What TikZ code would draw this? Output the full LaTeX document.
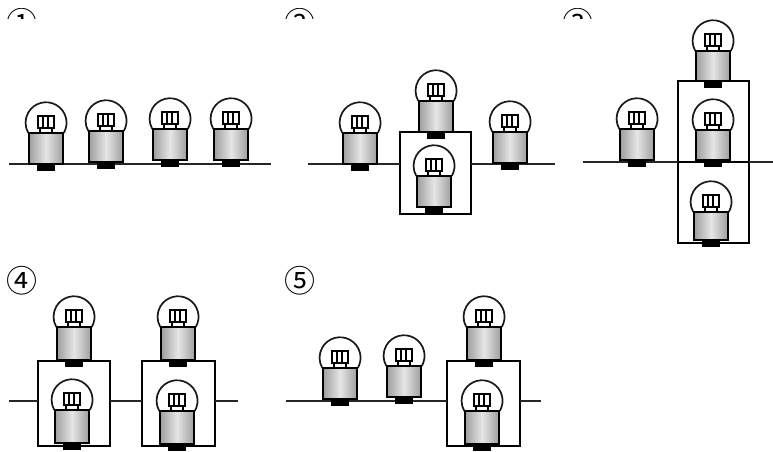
\documentclass[tikz,border=0pt]{standalone}
\usepackage{fontspec}
\newfontfamily\numfont{Noto Sans CJK SC}
\tikzset{
  wire/.style={draw=black!85,line width=1.5pt},
  boxnode/.style={draw=black,line width=1.5pt,fill=none,inner sep=0pt,rectangle},
  lbl/.style={inner sep=0pt,font=\numfont\fontsize{31}{31}\selectfont,text=black},
  dome/.style={draw=black!90,line width=1.7pt,fill=white},
  bodyshade/.style={draw=black,line width=1.6pt,left color=black!38,right color=black!38,middle color=white!90!black},
  fil/.style={draw=black,line width=1.3pt,fill=white},
  contact/.style={fill=black,draw=none}
}
% \lamp{name}{cx}{body bottom}{height dome top to body bottom}
\newcommand{\lamp}[4]{%
  \begin{scope}[shift={(#2,-#3)}]
    \pgfmathsetmacro{\hh}{#4}
    \draw[dome] (17.8,{\hh-30}) arc[start angle=-30,end angle=210,radius=20.5];
    \draw[fil] (-6,{\hh-30}) rectangle (6,{\hh-25});
    \draw[fil] (-8,{\hh-25}) rectangle (8,{\hh-13});
    \draw[line width=1.2pt] (-3,{\hh-25}) -- (-3,{\hh-13}) (2,{\hh-25}) -- (2,{\hh-13});
    \path[bodyshade] (-17,0) rectangle (17,{\hh-30});
    \fill[contact] (-9,-7) rectangle (9,0);
    \coordinate (#1) at (0,0);
  \end{scope}}
\begin{document}
\begin{tikzpicture}[x=1pt,y=1pt]
\useasboundingbox (0,0) rectangle (773,-451);
% labels (first row cut off by the picture's mask)
\begin{scope}
  \clip (0,-8) rectangle (773,-18);
  \node[lbl] (n1) at (22,-23) {①};
  \node[lbl] (n2) at (300,-23) {②};
  \node[lbl] (n3) at (578,-23) {③};
\end{scope}
\node[lbl] (n4) at (22,-281) {④};
\node[lbl] (n5) at (300,-281) {⑤};
% boxes
\node[boxnode,minimum width=71pt,minimum height=82pt] (b2) at (435.5,-173) {};
\node[boxnode,minimum width=71pt,minimum height=81pt] (b3a) at (713.5,-121.5) {};
\node[boxnode,minimum width=71pt,minimum height=81pt] (b3b) at (713.5,-202.5) {};
\node[boxnode,minimum width=72pt,minimum height=85pt] (b4a) at (74,-403.5) {};
\node[boxnode,minimum width=73pt,minimum height=85pt] (b4b) at (178.5,-403.5) {};
\node[boxnode,minimum width=73pt,minimum height=85pt] (b5) at (483.5,-403.5) {};
% wire ends
\coordinate (w1l) at (9,-164);  \coordinate (w1r) at (271,-164);
\coordinate (w2l) at (308,-164); \coordinate (w2r) at (555,-164);
\coordinate (w3l) at (583,-162); \coordinate (w3m) at (678,-162); \coordinate (w3r) at (773,-162);
\coordinate (w3n) at (749,-162);
\coordinate (w4l) at (9,-401);  \coordinate (w4r) at (238,-401);
\coordinate (w4a) at (110,-401); \coordinate (w4b) at (142,-401);
\coordinate (w4c) at (38,-401); \coordinate (w4d) at (215,-401);
\coordinate (w5l) at (286,-401); \coordinate (w5r) at (541,-401);
\coordinate (w5a) at (447,-401); \coordinate (w5b) at (520,-401);
\coordinate (w2a) at (400,-164); \coordinate (w2b) at (471,-164);
\draw[wire] (w1l) -- (w1r);
\draw[wire] (w2l) -- (w2a) (w2b) -- (w2r);
\draw[wire] (w3l) -- (w3m) (w3n) -- (w3r);
\draw[wire] (w4l) -- (w4c) (w4a) -- (w4b) (w4d) -- (w4r);
\draw[wire] (w5l) -- (w5a) (w5b) -- (w5r);
% lamps
\lamp{l11}{46}{164}{61}
\lamp{l12}{106}{162}{61}
\lamp{l13}{170}{160}{61}
\lamp{l14}{231}{160}{61}
\lamp{l21}{360}{164}{61}
\lamp{l22}{436}{132}{61}
\lamp{l23}{434}{207}{61}
\lamp{l24}{510}{163}{61}
\lamp{l31}{637}{160}{61}
\lamp{l32}{713}{81}{60}
\lamp{l33}{713}{160}{60}
\lamp{l34}{711}{240}{58}
\lamp{l41}{74}{360}{63}
\lamp{l42}{72}{443}{63}
\lamp{l43}{178}{360}{63}
\lamp{l44}{177}{444}{63}
\lamp{l51}{340}{399}{61}
\lamp{l52}{404}{397}{61}
\lamp{l53}{484}{360}{63}
\lamp{l54}{482}{444}{63}
\end{tikzpicture}
\end{document}
